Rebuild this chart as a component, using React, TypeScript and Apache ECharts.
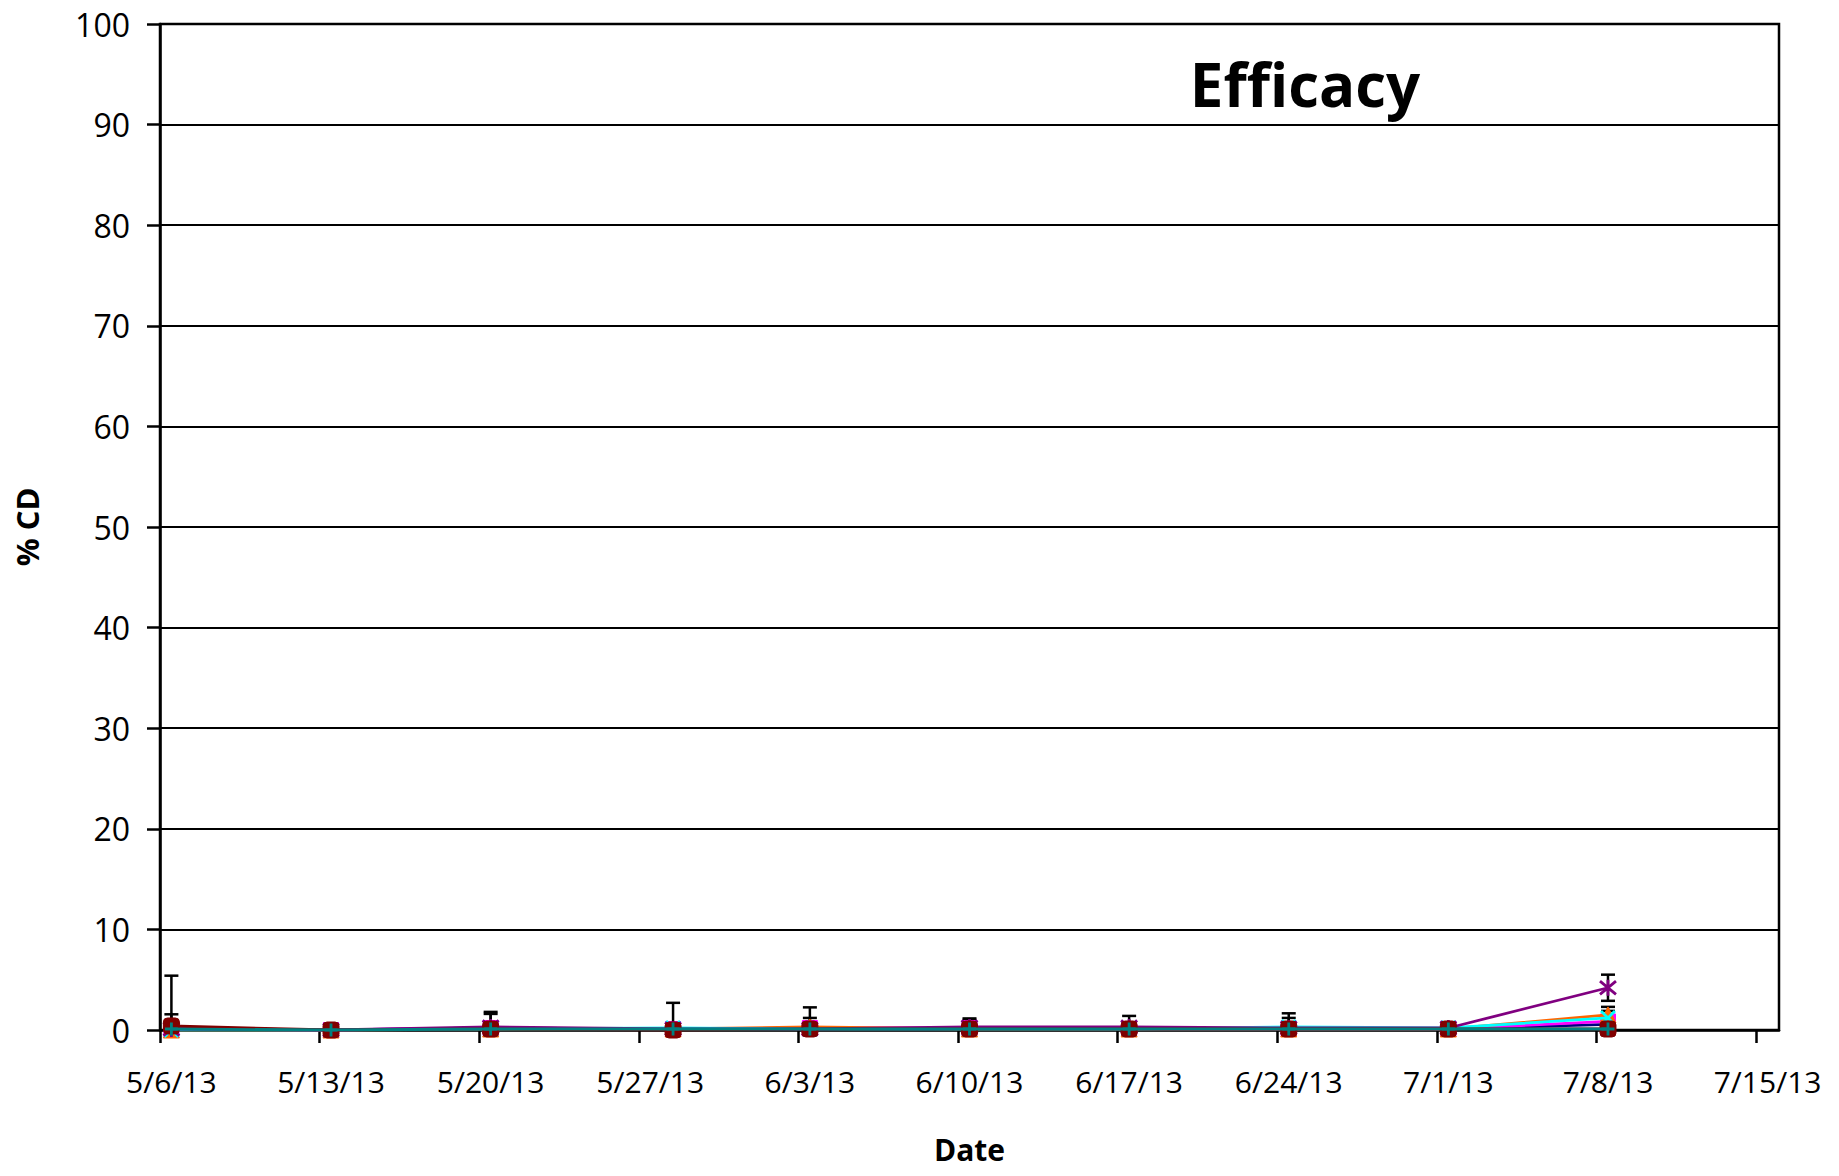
import React, { useEffect, useRef } from 'react';
import * as echarts from 'echarts';

// ---- data ----
const startDate = '2013-05-06';
const tickLabels = ['5/6/13', '5/13/13', '5/20/13', '5/27/13', '6/3/13', '6/10/13', '6/17/13', '6/24/13', '7/1/13', '7/8/13', '7/15/13'];
const sampleDates = ['2013-05-06', '2013-05-13', '2013-05-20', '2013-05-28', '2013-06-03', '2013-06-10', '2013-06-17', '2013-06-24', '2013-07-01', '2013-07-08'];

const navyMean = [0.2, 0.0, 0.2, 0.1, 0.1, 0.1, 0.1, 0.1, 0.1, 0.55];
const navySd = [1.36, 0.0, 1.4, 0.2, 0.2, 0.9, 0.2, 0.3, 0.2, 0.5];
const magentaMean = [0.1, 0.0, 0.2, 0.1, 0.2, 0.2, 0.1, 0.1, 0.1, 0.85];
const magentaSd = [0.3, 0.0, 0.5, 0.2, 0.4, 0.3, 0.2, 0.2, 0.2, 0.6];
const orangeMean = [0.0, 0.0, 0.1, 0.1, 0.3, 0.1, 0.1, 0.1, 0.1, 1.5];
const orangeSd = [0.0, 0.0, 0.2, 0.2, 1.95, 0.2, 0.2, 0.2, 0.2, 0.8];
const cyanMean = [0.0, 0.0, 0.1, 0.2, 0.1, 0.1, 0.1, 0.3, 0.2, 1.2];
const cyanSd = [0.0, 0.0, 0.2, 2.5, 0.2, 0.2, 0.2, 0.9, 0.3, 0.7];
const purpleMean = [0.1, 0.0, 0.3, 0.1, 0.1, 0.3, 0.3, 0.2, 0.2, 4.2];
const purpleSd = [0.2, 0.0, 1.5, 0.2, 0.3, 0.85, 1.1, 1.46, 0.3, 1.3];
const maroonMean = [0.4, 0.0, 0.1, 0.0, 0.1, 0.1, 0.1, 0.1, 0.1, 0.1];
const maroonSd = [5.0, 0.0, 0.3, 0.0, 1.1, 0.3, 0.3, 0.3, 0.2, 0.3];
const tealMean = [0.1, 0.0, 0.1, 0.1, 0.1, 0.1, 0.1, 0.1, 0.1, 0.1];
const tealSd = [0.0, 0.0, 0.1, 0.1, 0.1, 0.1, 0.1, 0.1, 0.1, 0.1];

const yTicks = [0, 10, 20, 30, 40, 50, 60, 70, 80, 90, 100];

const FONT = '"Open Sans", "Noto Sans", sans-serif';

const dayOf = (d: string) => (Date.parse(d) - Date.parse(startDate)) / 86400000;

const PATH_X = 'path://M0 0 L10 10 M10 0 L0 10';
const PATH_STAR = 'path://M0 0 L10 10 M10 0 L0 10 M5 -1 L5 11';
const PATH_PLUS = 'path://M5 0 L5 10 M0 5 L10 5';

type SDef = { name: string; color: string; mean: number[]; sd: number[]; symbol: string; size: number; stroke?: boolean };

const seriesDefs: SDef[] = [
  { name: 'Navy', color: '#000080', mean: navyMean, sd: navySd, symbol: 'diamond', size: 14 },
  { name: 'Magenta', color: '#FF00FF', mean: magentaMean, sd: magentaSd, symbol: 'rect', size: 15 },
  { name: 'Orange', color: '#FF6600', mean: orangeMean, sd: orangeSd, symbol: 'triangle', size: 16 },
  { name: 'Cyan', color: '#00FFFF', mean: cyanMean, sd: cyanSd, symbol: PATH_X, size: 14, stroke: true },
  { name: 'Purple', color: '#800080', mean: purpleMean, sd: purpleSd, symbol: PATH_STAR, size: 16, stroke: true },
  { name: 'Maroon', color: '#800000', mean: maroonMean, sd: maroonSd, symbol: 'roundRect', size: 16 },
  { name: 'Teal', color: '#008080', mean: tealMean, sd: tealSd, symbol: PATH_PLUS, size: 13, stroke: true },
];

export default function App() {
  const ref = useRef<HTMLDivElement>(null);

  useEffect(() => {
    if (!ref.current) return;
    const chart = echarts.init(ref.current, null, { renderer: 'svg' });
    const xs = sampleDates.map((d) => dayOf(d) + 0.5);

    const errData: number[][] = [];
    seriesDefs.forEach((s) => {
      s.mean.forEach((m, i) => {
        const sd = s.sd[i];
        if (sd > 0) errData.push([xs[i], Math.max(0, m - sd), m + sd]);
      });
    });

    const tickVals = tickLabels.map((_, i) => i * 7);
    const labelVals = tickLabels.map((_, i) => i * 7 + 0.5);

    const lineSeries = seriesDefs.map((s, k) => ({
      type: 'line',
      name: s.name,
      data: s.mean.map((m, i) => [xs[i], m]),
      symbol: s.symbol,
      symbolSize: s.size,
      showSymbol: true,
      z: 3 + k,
      lineStyle: { color: s.color, width: 2.8 },
      itemStyle: s.stroke
        ? { color: 'transparent', borderColor: s.color, borderWidth: 2.8 }
        : { color: s.color, borderColor: s.color, borderWidth: 1 },
      emphasis: { disabled: true },
    }));

    chart.setOption({
      animation: false,
      backgroundColor: '#ffffff',
      grid: {
        left: 160,
        right: 60,
        top: 24,
        bottom: 146,
        show: true,
        borderColor: '#000',
        borderWidth: 2.5,
        backgroundColor: 'transparent',
      },
      graphic: [
        {
          type: 'text',
          x: 1305,
          y: 84,
          style: {
            text: 'Efficacy',
            font: `bold 60px ${FONT}`,
            fill: '#000',
            textAlign: 'center',
            textVerticalAlign: 'middle',
          },
        },
      ],
      xAxis: {
        type: 'value',
        min: 0,
        max: 71,
        interval: 7,
        name: 'Date',
        nameLocation: 'middle',
        nameGap: 104,
        nameTextStyle: { fontFamily: FONT, fontSize: 30, fontWeight: 'bold', color: '#000' },
        axisLine: { show: true, lineStyle: { color: '#000', width: 2.5 } },
        axisTick: { show: true, inside: false, length: 13, lineStyle: { color: '#000', width: 2.5 }, customValues: tickVals },
        axisLabel: {
          customValues: labelVals,
          formatter: (v: number) => {
            const i = Math.round((v - 0.5) / 7);
            return tickLabels[i] ?? '';
          },
          fontFamily: FONT,
          fontSize: 30,
          color: '#000',
          margin: 36,
        },
        splitLine: { show: false },
      },
      yAxis: {
        type: 'value',
        min: yTicks[0],
        max: yTicks[yTicks.length - 1],
        interval: 10,
        name: '% CD',
        nameLocation: 'middle',
        nameGap: 118,
        nameRotate: 90,
        nameTextStyle: { fontFamily: FONT, fontSize: 31, fontWeight: 'bold', color: '#000' },
        axisLine: { show: true, lineStyle: { color: '#000', width: 2.5 } },
        axisTick: { show: true, inside: false, length: 13, lineStyle: { color: '#000', width: 2.5 } },
        axisLabel: { fontFamily: FONT, fontSize: 32, color: '#000', margin: 30 },
        splitLine: { show: true, lineStyle: { color: '#000', width: 2 } },
      },
      series: [
        {
          type: 'custom',
          name: 'err',
          data: errData,
          z: 2,
          clip: true,
          encode: { x: 0, y: [1, 2] },
          renderItem: (params: any, api: any) => {
            const x = api.value(0);
            const lo = api.coord([x, api.value(1)]);
            const hi = api.coord([x, api.value(2)]);
            const half = 7;
            const style = { stroke: '#000', lineWidth: 2.5 };
            return {
              type: 'group',
              children: [
                { type: 'line', shape: { x1: hi[0], y1: hi[1], x2: lo[0], y2: lo[1] }, style },
                { type: 'line', shape: { x1: hi[0] - half, y1: hi[1], x2: hi[0] + half, y2: hi[1] }, style },
                { type: 'line', shape: { x1: lo[0] - half, y1: lo[1], x2: lo[0] + half, y2: lo[1] }, style },
              ],
            };
          },
        },
        ...lineSeries,
      ],
    } as any);

    return () => chart.dispose();
  }, []);

  return (
    <div
      ref={ref}
      style={{ position: 'fixed', left: 0, top: 0, width: 1839, height: 1176, background: '#fff' }}
    />
  );
}
